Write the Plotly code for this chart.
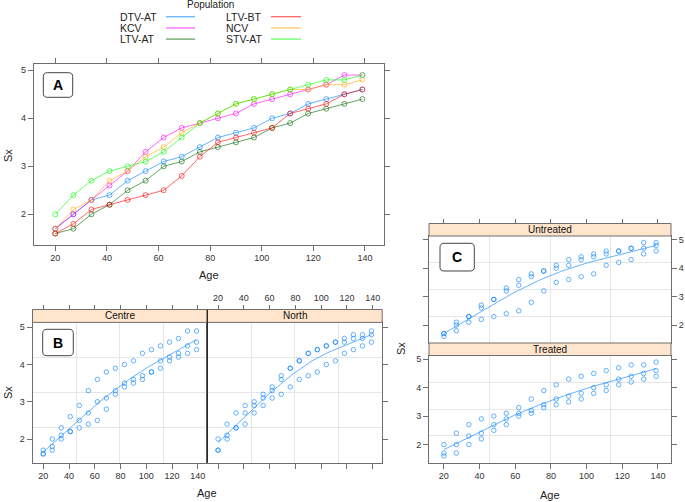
import numpy as np
import plotly.graph_objects as go

# ---------------- data ----------------
ages = [20, 27, 34, 41, 48, 55, 62, 69, 76, 83, 90, 97, 104, 111, 118, 125, 132, 139]
dtv_at = [1.7, 2.0, 2.3, 2.4, 2.7, 2.9, 3.1, 3.2, 3.4, 3.6, 3.7, 3.8, 4.0, 4.1, 4.3, 4.4, 4.5, 4.6]
kcv    = [1.7, 2.0, 2.3, 2.6, 2.9, 3.3, 3.6, 3.8, 3.9, 4.0, 4.1, 4.3, 4.4, 4.5, 4.6, 4.7, 4.9, 4.9]
ltv_at = [1.6, 1.7, 2.0, 2.2, 2.5, 2.7, 3.0, 3.1, 3.3, 3.4, 3.5, 3.6, 3.8, 3.9, 4.1, 4.2, 4.3, 4.4]
ltv_bt = [1.6, 1.8, 2.1, 2.2, 2.3, 2.4, 2.5, 2.8, 3.2, 3.5, 3.6, 3.7, 3.8, 4.1, 4.2, 4.3, 4.5, 4.6]
ncv    = [1.7, 2.1, 2.3, 2.7, 2.9, 3.2, 3.4, 3.7, 3.9, 4.1, 4.3, 4.4, 4.5, 4.6, 4.6, 4.7, 4.7, 4.8]
stv_at = [2.0, 2.4, 2.7, 2.9, 3.0, 3.1, 3.3, 3.6, 3.9, 4.1, 4.3, 4.4, 4.5, 4.6, 4.7, 4.8, 4.8, 4.9]

populations = ["DTV-AT", "KCV", "LTV-AT", "LTV-BT", "NCV", "STV-AT"]
pop_values = [dtv_at, kcv, ltv_at, ltv_bt, ncv, stv_at]
pop_colors = ["rgba(0,128,255,0.6)", "rgba(255,0,255,0.6)", "rgba(0,100,0,0.6)",
              "rgba(255,0,0,0.6)", "rgba(255,165,0,0.6)", "rgba(0,255,0,0.6)"]

centre_pops = ["KCV", "LTV-AT", "LTV-BT"]
north_pops = ["DTV-AT", "NCV", "STV-AT"]
untreated_pops = ["KCV", "LTV-BT", "NCV"]
treated_pops = ["DTV-AT", "LTV-AT", "STV-AT"]

x_ticks = [20, 40, 60, 80, 100, 120, 140]
y_ticks = [2, 3, 4, 5]

# ---------------- helpers ----------------
W, H = 685, 502
FONT = "Liberation Sans, Arial, sans-serif"
LC = "#6e6e6e"
BLUE = "rgba(0,128,255,0.6)"
vals = dict(zip(populations, pop_values))

def px(x):
    return x / W

def py(y):
    return 1 - y / H

def group_xy(pops):
    xs, ys = [], []
    for p in pops:
        xs += ages
        ys += vals[p]
    return np.array(xs, float), np.array(ys, float)

def loess(x, y, span=2/3, robust_iters=3, n_eval=50):
    n = len(x)
    q = int(np.floor(n * span))
    rw = np.ones(n)

    def fit_at(x0, rw):
        d = np.abs(x - x0)
        h = np.sort(d)[q - 1]
        w = np.clip(1 - (d / h) ** 3, 0, None) ** 3 * rw
        sw = w.sum()
        xm = (w * x).sum() / sw
        ym = (w * y).sum() / sw
        sxx = (w * (x - xm) ** 2).sum()
        b = (w * (x - xm) * (y - ym)).sum() / sxx if sxx > 0 else 0.0
        return ym + b * (x0 - xm)

    for _ in range(robust_iters):
        fitted = np.array([fit_at(xi, rw) for xi in x])
        r = y - fitted
        s = np.median(np.abs(r))
        if s == 0:
            break
        u = r / (6 * s)
        rw = np.where(np.abs(u) < 1, (1 - u ** 2) ** 2, 0.0)
    xe = np.linspace(x.min(), x.max(), n_eval)
    return xe, np.array([fit_at(x0, rw) for x0 in xe])

# axis ranges (lattice-style 7% padding)
all_y = np.concatenate([np.array(v) for v in pop_values])
xpad = (max(ages) - min(ages)) * 0.07
ypad = (all_y.max() - all_y.min()) * 0.07
XR = [min(ages) - xpad, max(ages) + xpad]
YR = [all_y.min() - ypad, all_y.max() + ypad]
xgrid = [XR[0] + k * (XR[1] - XR[0]) / 4 for k in (1, 2, 3)]
ygrid = [YR[0] + k * (YR[1] - YR[0]) / 4 for k in (1, 2, 3)]

fig = go.Figure()

# ---------------- panel A ----------------
for p, v, c in zip(populations, pop_values, pop_colors):
    fig.add_trace(go.Scatter(
        x=ages, y=v, mode="lines+markers", name=p, showlegend=False,
        line=dict(color=c, width=1),
        marker=dict(symbol="circle-open", size=5, color=c, line=dict(width=1, color=c)),
        xaxis="x", yaxis="y", hoverinfo="skip"))

# ---------------- panels B & C ----------------
def add_panel(pops, xa, ya):
    x, y = group_xy(pops)
    fig.add_trace(go.Scatter(
        x=x, y=y, mode="markers", showlegend=False,
        marker=dict(symbol="circle-open", size=4.5, color=BLUE, line=dict(width=1, color=BLUE)),
        xaxis=xa, yaxis=ya, hoverinfo="skip"))
    xe, ye = loess(x, y)
    fig.add_trace(go.Scatter(
        x=xe, y=ye, mode="lines", showlegend=False,
        line=dict(color=BLUE, width=1), xaxis=xa, yaxis=ya, hoverinfo="skip"))

add_panel(centre_pops, "x2", "y2")
add_panel(north_pops, "x3", "y3")
add_panel(untreated_pops, "x4", "y4")
add_panel(treated_pops, "x5", "y5")

# dummy traces for tick-only overlay axes
for xa, ya in [("x6", "y2"), ("x7", "y3"), ("x8", "y4"), ("x4", "y6"), ("x5", "y7")]:
    fig.add_trace(go.Scatter(x=[None], y=[None], xaxis=xa, yaxis=ya,
                             showlegend=False, hoverinfo="skip"))

TF = dict(family=FONT, size=9, color="#333")
base = dict(showline=True, linecolor=LC, linewidth=1, mirror=True, ticks="outside",
            ticklen=5, tickcolor=LC, tickwidth=1, showgrid=False, zeroline=False,
            tickfont=TF, fixedrange=True)
gridx = dict(minor=dict(tickvals=xgrid, showgrid=True, gridcolor="#e6e6e6", gridwidth=1, ticks=""))
gridy = dict(minor=dict(tickvals=ygrid, showgrid=True, gridcolor="#e6e6e6", gridwidth=1, ticks=""))

def xax(**kw):
    d = dict(base, range=XR, tickvals=x_ticks)
    d.update(kw)
    return d

def yax(**kw):
    d = dict(base, range=YR, tickvals=y_ticks)
    d.update(kw)
    return d

tick_only = dict(showline=False, showticklabels=False, showgrid=False, zeroline=False,
                 ticks="outside", ticklen=5, tickcolor=LC, tickwidth=1, fixedrange=True)

# domains
A_x = [px(33.8), px(383.9)]
A_y = [py(244.6), py(64.0)]
BC_x = [px(32.5), px(207.3)]
BN_x = [px(207.3), px(382.2)]
B_y = [py(462.5), py(322.4)]
B_strip = (309.5, 322.4)
C_x = [px(429), px(671)]
CU_y = [py(343), py(236)]
CU_strip = (223.5, 236)
CT_y = [py(462.5), py(355.5)]
CT_strip = (343, 355.5)

fig.update_layout(
    xaxis=xax(domain=A_x, anchor="y", mirror="ticks"),
    yaxis=yax(domain=A_y, anchor="x", mirror="ticks"),
    xaxis2=xax(domain=BC_x, anchor="y2", **gridx),
    yaxis2=yax(domain=B_y, anchor="x2", **gridy),
    xaxis3=xax(domain=BN_x, anchor="y3", showticklabels=False, **gridx),
    yaxis3=yax(domain=B_y, anchor="x3", side="right", showticklabels=False, **gridy),
    xaxis4=xax(domain=C_x, anchor="y4", ticks="", showticklabels=False, **gridx),
    yaxis4=yax(domain=CU_y, anchor="x4", side="right", **gridy),
    xaxis5=xax(domain=C_x, anchor="y5", **gridx),
    yaxis5=yax(domain=CT_y, anchor="x5", **gridy),
    xaxis6=dict(tick_only, overlaying="x2", anchor="free", position=py(B_strip[0]),
                side="top", range=XR, tickvals=x_ticks),
    xaxis7=dict(tick_only, overlaying="x3", anchor="free", position=py(B_strip[0]),
                side="top", range=XR, tickvals=x_ticks, showticklabels=True, tickfont=TF),
    xaxis8=dict(tick_only, overlaying="x4", anchor="free", position=py(CU_strip[0]),
                side="top", range=XR, tickvals=x_ticks),
    yaxis6=dict(tick_only, overlaying="y4", anchor="x4", side="left", range=YR, tickvals=y_ticks),
    yaxis7=dict(tick_only, overlaying="y5", anchor="x5", side="right", range=YR, tickvals=y_ticks),
)

shapes = []
annotations = []

# strips
def strip(x0, x1, yy, label):
    shapes.append(dict(type="rect", xref="paper", yref="paper",
                       x0=px(x0), x1=px(x1), y0=py(yy[1]), y1=py(yy[0]),
                       fillcolor="#ffe5cc", line=dict(color=LC, width=1), layer="above"))
    annotations.append(dict(text=label, x=px((x0 + x1) / 2), y=py((yy[0] + yy[1]) / 2),
                            xref="paper", yref="paper", showarrow=False,
                            font=dict(family=FONT, size=10, color="#111"),
                            xanchor="center", yanchor="middle"))

strip(32.5, 207.3, B_strip, "Centre")
strip(207.3, 382.2, B_strip, "North")
strip(429, 671, CU_strip, "Untreated")
strip(429, 671, CT_strip, "Treated")

# divider between Centre and North
shapes.append(dict(type="line", xref="paper", yref="paper", x0=px(207.3), x1=px(207.3),
                   y0=py(462.5), y1=py(309.5), line=dict(color="#222", width=1.2), layer="above"))

# rounded label boxes
def rbox(x0, y0, x1, y1, label, r=4):
    def P(x, y):
        return f"{px(x):.5f},{py(y):.5f}"
    path = (f"M {P(x0 + r, y0)} L {P(x1 - r, y0)} Q {P(x1, y0)} {P(x1, y0 + r)} "
            f"L {P(x1, y1 - r)} Q {P(x1, y1)} {P(x1 - r, y1)} "
            f"L {P(x0 + r, y1)} Q {P(x0, y1)} {P(x0, y1 - r)} "
            f"L {P(x0, y0 + r)} Q {P(x0, y0)} {P(x0 + r, y0)} Z")
    shapes.append(dict(type="path", xref="paper", yref="paper", path=path,
                       fillcolor="white", line=dict(color="#444", width=1), layer="above"))
    annotations.append(dict(text=f"<b>{label}</b>", x=px((x0 + x1) / 2), y=py((y0 + y1) / 2),
                            xref="paper", yref="paper", showarrow=False,
                            font=dict(family=FONT, size=14, color="#000"),
                            xanchor="center", yanchor="middle"))

rbox(43.3, 72.7, 72.7, 97.3, "A")
rbox(42.7, 329.3, 73.3, 355.7, "B")
rbox(440, 243.3, 474.3, 271, "C")

# axis titles
def label(text, x, y, angle=0):
    annotations.append(dict(text=text, x=px(x), y=py(y), xref="paper", yref="paper",
                            showarrow=False, textangle=angle,
                            font=dict(family=FONT, size=11, color="#222"),
                            xanchor="center", yanchor="middle"))

label("Sx", 8, 155, -90)
label("Age", 209, 275)
label("Sx", 8, 392, -90)
label("Age", 207, 493)
label("Sx", 401, 349, -90)
label("Age", 550, 495)

# legend (lattice key style)
annotations.append(dict(text="Population", x=px(210), y=py(5), xref="paper", yref="paper",
                        showarrow=False, font=dict(family=FONT, size=10, color="#222"),
                        xanchor="center", yanchor="middle"))
rows_y = [16.7, 27.9, 39.1]
for i, (p, c) in enumerate(zip(populations, pop_colors)):
    col, row = divmod(i, 3)
    tx = 118.3 if col == 0 else 224
    lx0, lx1 = (166, 195) if col == 0 else (271, 301)
    yy = rows_y[row]
    annotations.append(dict(text=p, x=px(tx), y=py(yy), xref="paper", yref="paper",
                            showarrow=False, font=dict(family=FONT, size=10.5, color="#222"),
                            xanchor="left", yanchor="middle"))
    shapes.append(dict(type="line", xref="paper", yref="paper", x0=px(lx0), x1=px(lx1),
                       y0=py(yy), y1=py(yy), line=dict(color=c, width=1.3)))

fig.update_layout(
    width=W, height=H, margin=dict(l=0, r=0, t=0, b=0, pad=0),
    paper_bgcolor="white", plot_bgcolor="white", showlegend=False,
    shapes=shapes, annotations=annotations,
    font=dict(family=FONT, size=10, color="#222"),
)

fig.write_html("out.html", config={"displayModeBar": False},
               post_script="document.body.style.margin='0px';")
